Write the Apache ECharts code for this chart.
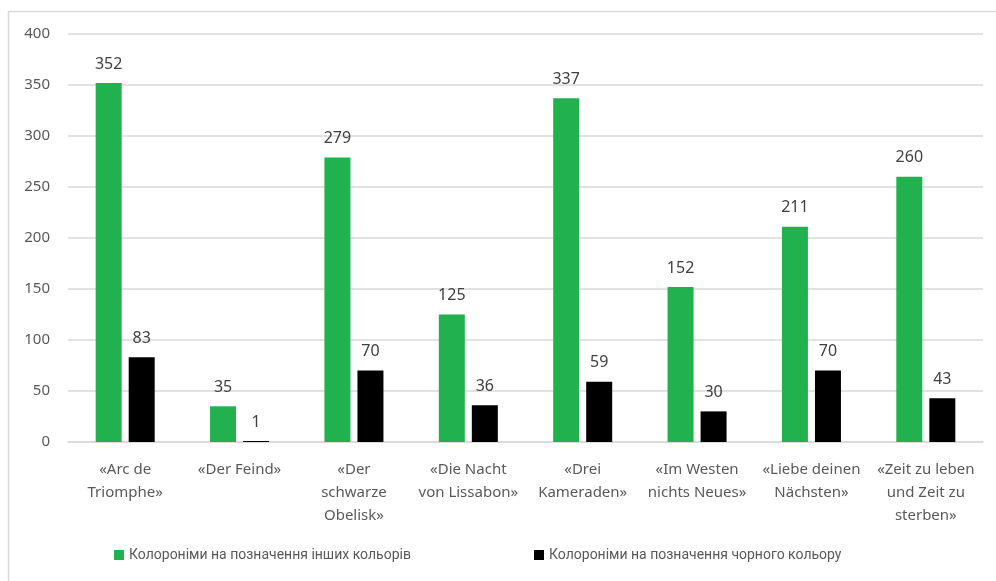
<!DOCTYPE html>
<html>
<head>
<meta charset="utf-8">
<script src="https://cdn.jsdelivr.net/npm/echarts@6/dist/echarts.min.js"></script>
<style>html,body{margin:0;padding:0;background:#fff;}#c{width:996px;height:581px;}</style>
</head>
<body>
<div id="c"></div>
<script>
const categories = ['«Arc de\nTriomphe»', '«Der Feind»', '«Der\nschwarze\nObelisk»', '«Die Nacht\nvon Lissabon»', '«Drei\nKameraden»', '«Im Westen\nnichts Neues»', '«Liebe deinen\nNächsten»', '«Zeit zu leben\nund Zeit zu\nsterben»'];
const seriesNames = ['Колороніми на позначення інших кольорів', 'Колороніми на позначення чорного кольору'];
const otherColours = [352, 35, 279, 125, 337, 152, 211, 260];
const blackColour = [83, 1, 70, 36, 59, 30, 70, 43];

const chart = echarts.init(document.getElementById('c'));
const font = 'Noto Sans';
const legendText = { fontFamily: 'Roboto', fontSize: 14, color: '#595959' };
chart.setOption({
  animation: false,
  graphic: [{
    type: 'rect', silent: true,
    shape: { x: 8.5, y: 11.5, width: 1200, height: 800 },
    style: { fill: 'none', stroke: '#d9d9d9', lineWidth: 1.5 }
  }],
  grid: { left: 68, right: 13, top: 34, bottom: 139 },
  legend: [{
    data: [seriesNames[0]], left: 109, top: 543,
    icon: 'rect', itemWidth: 10, itemHeight: 10, itemGap: 4,
    textStyle: legendText
  }, {
    data: [seriesNames[1]], left: 529, top: 543,
    icon: 'rect', itemWidth: 10, itemHeight: 10, itemGap: 4,
    textStyle: legendText
  }],
  xAxis: {
    type: 'category', data: categories,
    axisLine: { lineStyle: { color: '#d9d9d9', width: 1.5 } },
    axisTick: { show: false },
    axisLabel: { interval: 0, fontFamily: font, fontSize: 15, color: '#595959', lineHeight: 23, margin: 16 }
  },
  yAxis: {
    type: 'value', min: 0, max: 400, interval: 50,
    axisLine: { show: false }, axisTick: { show: false },
    splitLine: { lineStyle: { color: '#d9d9d9', width: 1.5 } },
    axisLabel: { fontFamily: font, fontSize: 15, color: '#595959', margin: 18 }
  },
  series: [{
    name: seriesNames[0], type: 'bar', data: otherColours,
    barWidth: 26, barGap: '27%',
    itemStyle: { color: '#21b24f' },
    label: { show: true, position: 'top', distance: 11, fontFamily: font, fontSize: 16, color: '#404040' }
  }, {
    name: seriesNames[1], type: 'bar', data: blackColour,
    barWidth: 26,
    itemStyle: { color: '#000000' },
    label: { show: true, position: 'top', distance: 11, fontFamily: font, fontSize: 16, color: '#404040' }
  }]
});
</script>
</body>
</html>
